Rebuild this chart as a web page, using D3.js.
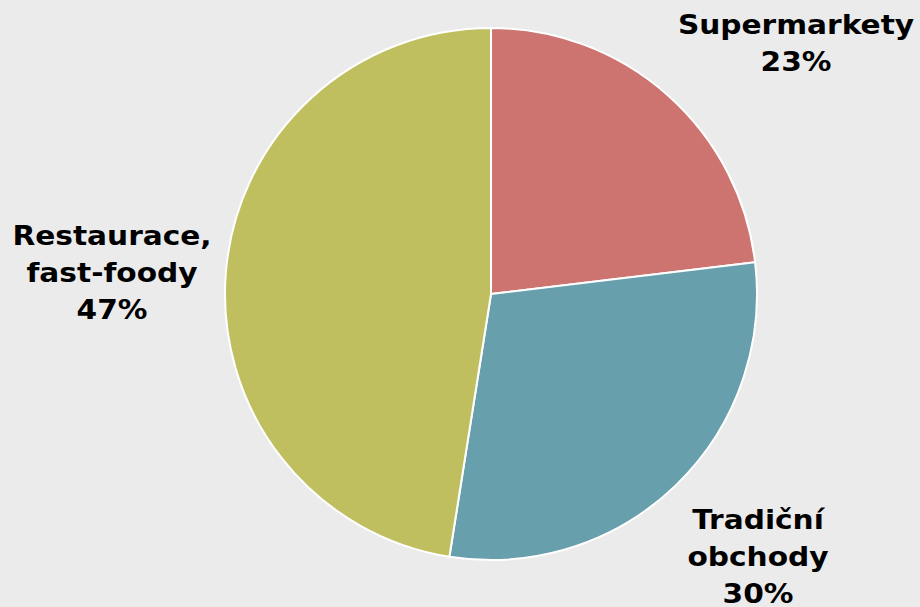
<!DOCTYPE html>
<html><head><meta charset="utf-8">
<script src="https://cdn.jsdelivr.net/npm/d3@7"></script>
<style>html,body{margin:0;padding:0;background:#ebebeb;}svg{display:block;}</style>
</head><body>
<svg id="c" width="920" height="607"></svg>
<script>
const categories = ["Supermarkety", "Tradiční obchody", "Restaurace, fast-foody"];
const labelLines = [["Supermarkety"], ["Tradiční", "obchody"], ["Restaurace,", "fast-foody"]];
const values = [23.1, 29.4, 47.5];
const pctLabels = ["23%", "30%", "47%"];
const colors = ["#cd7470", "#689fad", "#c0bf5f"];

const svg = d3.select("#c");
const cx = 491, cy = 294, r = 266;
svg.append("rect").attr("width", 920).attr("height", 607).attr("fill", "#ebebeb");
const g = svg.append("g").attr("transform", `translate(${cx},${cy})`);
const pie = d3.pie().sort(null).value(d => d)(values);
const arc = d3.arc().innerRadius(0).outerRadius(r);
g.selectAll("path").data(pie).enter().append("path")
  .attr("d", arc).attr("fill", (d, i) => colors[i])
  .attr("stroke", "#ffffff").attr("stroke-width", 2).attr("stroke-linejoin", "round");

const labelPos = [[796, 25], [758, 520], [112, 236]];
const lh = 37;
pie.forEach((d, i) => {
  const lines = labelLines[i].concat([pctLabels[i]]);
  const t = svg.append("text").attr("text-anchor", "middle")
    .attr("transform", `translate(${labelPos[i][0]},${labelPos[i][1]}) scale(1.14,1)`)
    .attr("font-family", "Verdana, 'DejaVu Sans', sans-serif")
    .attr("font-weight", "bold").attr("font-size", 26).attr("fill", "#000");
  lines.forEach((l, j) => {
    t.append("tspan").attr("x", 0).attr("y", j * lh)
      .attr("dy", "0.35em").text(l);
  });
});
</script>
</body></html>
